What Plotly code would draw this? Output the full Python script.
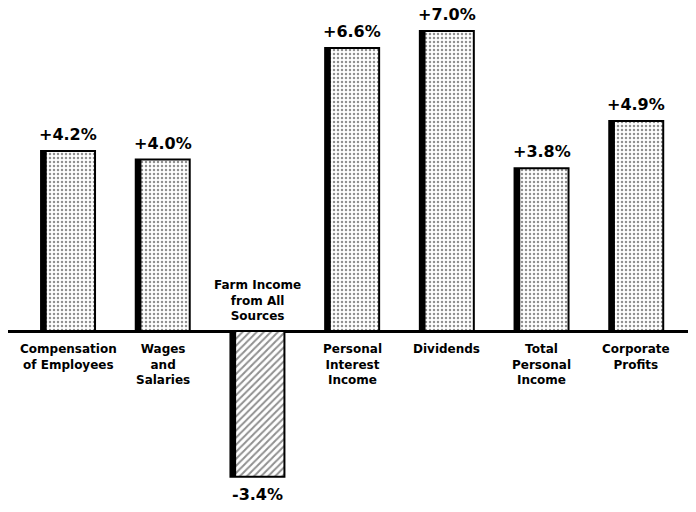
import plotly.graph_objects as go

categories = [
    "Compensation<br>of Employees",
    "Wages<br>and<br>Salaries",
    "Farm Income<br>from All<br>Sources",
    "Personal<br>Interest<br>Income",
    "Dividends",
    "Total<br>Personal<br>Income",
    "Corporate<br>Profits",
]
changes = [4.2, 4.0, -3.4, 6.6, 7.0, 3.8, 4.9]
value_labels = ["+4.2%", "+4.0%", "-3.4%", "+6.6%", "+7.0%", "+3.8%", "+4.9%"]

idx = list(range(len(categories)))
BAR_W = 0.57
FONT = "DejaVu Sans"

fig = go.Figure()

# main bars: dotted for gains, hatched for the decline
fig.add_trace(go.Bar(
    x=idx, y=changes, width=BAR_W,
    marker=dict(
        color="white",
        line=dict(color="black", width=2),
        pattern=dict(
            shape=["/" if v < 0 else "." for v in changes],
            size=[5 if v < 0 else 4 for v in changes],
            solidity=[0.4 if v < 0 else 0.3 for v in changes],
            fgcolor="#222222", bgcolor="white",
        ),
    ),
    hoverinfo="skip",
))

# heavy left edge (drop shadow look)
fig.add_trace(go.Bar(
    x=idx, y=changes, width=0.06, offset=-BAR_W / 2,
    marker=dict(color="black", line=dict(width=0)),
    hoverinfo="skip",
))

annotations = []
for i, (cat, v, lab) in enumerate(zip(categories, changes, value_labels)):
    annotations.append(dict(
        x=i, y=v, text=f"<b>{lab}</b>", showarrow=False,
        yanchor="bottom" if v >= 0 else "top",
        yshift=5 if v >= 0 else -6,
        font=dict(family=FONT, size=16, color="black"),
    ))
    annotations.append(dict(
        x=i, y=0, text=f"<b>{cat}</b>", showarrow=False,
        yanchor="top" if v >= 0 else "bottom",
        yshift=-9 if v >= 0 else 6,
        font=dict(family=FONT, size=12, color="black"),
        align="center",
    ))

fig.update_layout(
    width=688, height=504,
    margin=dict(l=0, r=0, t=0, b=0),
    paper_bgcolor="white", plot_bgcolor="white",
    barmode="overlay", showlegend=False,
    annotations=annotations,
    xaxis=dict(range=[-0.634, 6.631], visible=False),
    yaxis=dict(range=[-4.223, 7.536], showgrid=False, showticklabels=False,
               zeroline=True, zerolinecolor="black", zerolinewidth=3),
)

fig.write_html("out.html")
